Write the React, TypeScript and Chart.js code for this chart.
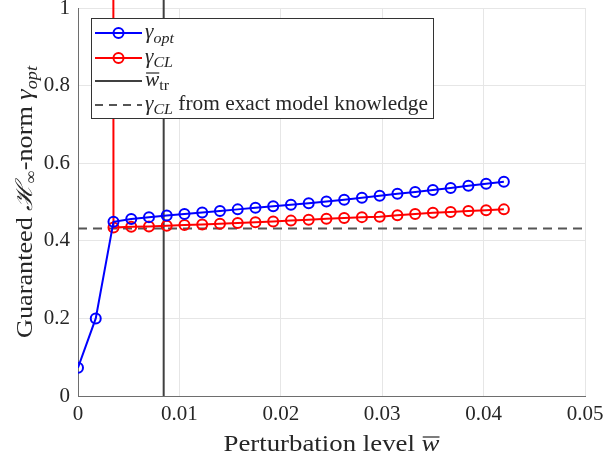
import { useEffect, useRef } from 'react';
import { Chart, registerables } from 'chart.js';
Chart.register(...registerables);

const perturbation = [0, 0.00175, 0.0035, 0.00525, 0.007, 0.00875, 0.0105, 0.01225, 0.014, 0.01575, 0.0175, 0.01925, 0.021, 0.02275, 0.0245, 0.02625, 0.028, 0.02975, 0.0315, 0.03325, 0.035, 0.03675, 0.0385, 0.04025, 0.042];
const gammaOpt = [0.073, 0.2, 0.449, 0.456, 0.461, 0.465, 0.469, 0.473, 0.477, 0.481, 0.485, 0.489, 0.493, 0.497, 0.501, 0.506, 0.511, 0.516, 0.521, 0.526, 0.531, 0.536, 0.542, 0.547, 0.552];
const gammaCL = [null, 1000, 0.434, 0.436, 0.437, 0.439, 0.441, 0.442, 0.444, 0.446, 0.448, 0.45, 0.452, 0.454, 0.457, 0.459, 0.461, 0.462, 0.466, 0.469, 0.472, 0.474, 0.477, 0.479, 0.481];
const wTr = 0.00845;
const gammaCLExact = 0.432;
const xRange = [0, 0.05];
const yRange = [0, 1];
const xTicks = [0, 0.01, 0.02, 0.03, 0.04, 0.05];
const yTicks = [0, 0.2, 0.4, 0.6, 0.8, 1];

const SERIF = "'Liberation Serif', 'DejaVu Serif', serif";
const BLUE = '#0000ff';
const RED = '#ff0000';
const DARK = '#404040';
const DASH = '#555555';

type Run = { t: string; f: string; dy?: number; over?: boolean };

function runsWidth(ctx: CanvasRenderingContext2D, runs: Run[]) {
  let w = 0;
  for (const r of runs) {
    ctx.font = r.f;
    w += ctx.measureText(r.t).width;
  }
  return w;
}

function drawRuns(ctx: CanvasRenderingContext2D, runs: Run[], x: number, y: number) {
  for (const r of runs) {
    ctx.font = r.f;
    const m = ctx.measureText(r.t);
    const w = m.width;
    ctx.fillText(r.t, x, y + (r.dy || 0));
    if (r.over) {
      const top = y + (r.dy || 0) - (m.actualBoundingBoxAscent || 10) - 3;
      ctx.save();
      ctx.strokeStyle = ctx.fillStyle as string;
      ctx.lineWidth = 1.2;
      ctx.beginPath();
      ctx.moveTo(x + 1, top);
      ctx.lineTo(x + w, top);
      ctx.stroke();
      ctx.restore();
    }
    x += w;
  }
}

function drawScaled(ctx: CanvasRenderingContext2D, runs: Run[], x: number, y: number, sx: number) {
  ctx.save();
  ctx.translate(x, y);
  ctx.scale(sx, 1);
  drawRuns(ctx, runs, 0, 0);
  ctx.restore();
}

const f = (size: number, italic = false) => `${italic ? 'italic ' : ''}${size}px ${SERIF}`;

const overlayPlugin = {
  id: 'overlay',
  afterDraw(chart: any) {
    const ctx: CanvasRenderingContext2D = chart.ctx;
    const area = chart.chartArea;
    ctx.save();
    ctx.fillStyle = '#262626';
    ctx.textBaseline = 'alphabetic';
    ctx.textAlign = 'left';

    // Y axis title
    const yRuns: Run[] = [
      { t: 'Guaranteed ', f: f(23) },
      { t: 'ℋ', f: f(23, true) },
      { t: '∞', f: f(16), dy: 4 },
      { t: '-norm ', f: f(23) },
      { t: 'γ', f: f(23, true) },
      { t: 'opt', f: f(16, true), dy: 5 },
    ];
    const yTarget = 272;
    const yw = runsWidth(ctx, yRuns);
    const cy = (area.top + area.bottom) / 2;
    ctx.save();
    ctx.translate(32, cy + yTarget / 2);
    ctx.rotate(-Math.PI / 2);
    drawScaled(ctx, yRuns, 0, 0, yTarget / yw);
    ctx.restore();

    // X axis title
    const xRuns: Run[] = [
      { t: 'Perturbation level ', f: f(24) },
      { t: 'w', f: f(24, true), over: true },
    ];
    const xTarget = 216;
    const xw = runsWidth(ctx, xRuns);
    drawScaled(ctx, xRuns, (area.left + area.right) / 2 - xTarget / 2, 451, xTarget / xw);

    // Legend
    const lx = 91, ly = 18, lw = 342, lh = 100;
    ctx.fillStyle = '#ffffff';
    ctx.fillRect(lx, ly, lw, lh);
    ctx.strokeStyle = '#333333';
    ctx.lineWidth = 1;
    ctx.strokeRect(lx + 0.5, ly + 0.5, lw, lh);

    const rows = [33, 58, 81, 105];
    const sx0 = 95, sx1 = 142, tx = 145;
    const drawSample = (y: number, color: string, marker: boolean, dashed: boolean) => {
      ctx.save();
      ctx.strokeStyle = color;
      ctx.lineWidth = 2;
      if (dashed) ctx.setLineDash([8, 6]);
      ctx.beginPath();
      ctx.moveTo(sx0, y);
      ctx.lineTo(sx1, y);
      ctx.stroke();
      ctx.setLineDash([]);
      if (marker) {
        ctx.beginPath();
        ctx.arc((sx0 + sx1) / 2, y, 5, 0, Math.PI * 2);
        ctx.stroke();
      }
      ctx.restore();
    };
    drawSample(rows[0], BLUE, true, false);
    drawSample(rows[1], RED, true, false);
    drawSample(rows[2], DARK, false, false);
    drawSample(rows[3], DASH, false, true);

    ctx.fillStyle = '#262626';
    const row4: Run[] = [
      { t: 'γ', f: f(20, true) },
      { t: 'CL', f: f(15, true), dy: 4 },
      { t: ' from exact model knowledge', f: f(20) },
    ];
    const lsx = 283 / runsWidth(ctx, row4);
    drawScaled(ctx, [{ t: 'γ', f: f(20, true) }, { t: 'opt', f: f(15, true), dy: 5 }], tx, rows[0] + 5, lsx);
    drawScaled(ctx, [{ t: 'γ', f: f(20, true) }, { t: 'CL', f: f(15, true), dy: 4 }], tx, rows[1] + 5, lsx);
    drawScaled(ctx, [{ t: 'w', f: f(20, true), over: true }, { t: 'tr', f: f(15), dy: 4 }], tx, rows[2] + 5, lsx);
    drawScaled(ctx, row4, tx, rows[3] + 5, lsx);

    ctx.restore();
  },
};

export default function App() {
  const ref = useRef<HTMLCanvasElement | null>(null);
  useEffect(() => {
    if (!ref.current) return;
    const optPts = perturbation.map((x, i) => ({ x, y: gammaOpt[i] }));
    const clPts = perturbation.map((x, i) => ({ x, y: gammaCL[i] }));
    const chart = new Chart(ref.current, {
      type: 'line',
      data: {
        datasets: [
          {
            label: 'γopt',
            data: optPts as any,
            borderColor: BLUE,
            backgroundColor: 'rgba(0,0,0,0)',
            borderWidth: 2,
            pointRadius: 5,
            pointBorderWidth: 2,
            pointBorderColor: BLUE,
            pointBackgroundColor: 'rgba(0,0,0,0)',
            tension: 0,
            order: 1,
          },
          {
            label: 'γCL',
            data: clPts as any,
            borderColor: RED,
            backgroundColor: 'rgba(0,0,0,0)',
            borderWidth: 2,
            pointRadius: 5,
            pointBorderWidth: 2,
            pointBorderColor: RED,
            pointBackgroundColor: 'rgba(0,0,0,0)',
            tension: 0,
            spanGaps: false,
            clip: { left: 0, right: 0, bottom: 0, top: 8 } as any,
            order: 2,
          },
          {
            label: 'w̄tr',
            data: [{ x: wTr, y: yRange[0] }, { x: wTr, y: 1000 }] as any,
            borderColor: DARK,
            borderWidth: 2,
            pointRadius: 0,
            clip: { left: 0, right: 0, bottom: 0, top: 8 } as any,
            order: 3,
          },
          {
            label: 'γCL from exact model knowledge',
            data: [{ x: xRange[0], y: gammaCLExact }, { x: xRange[1], y: gammaCLExact }] as any,
            borderColor: DASH,
            borderWidth: 2,
            borderDash: [9, 6],
            pointRadius: 0,
            order: 4,
          },
        ],
      },
      options: {
        responsive: false,
        animation: false,
        events: [],
        layout: { padding: { top: 8, right: 20, left: 0, bottom: 0 } },
        plugins: { legend: { display: false }, tooltip: { enabled: false } },
        scales: {
          x: {
            type: 'linear',
            min: xRange[0],
            max: xRange[1],
            afterBuildTicks: (s: any) => { s.ticks = xTicks.map((v) => ({ value: v })); },
            afterFit: (s: any) => { s.height = 65; s.paddingLeft = 0; s.paddingRight = 0; },
            ticks: {
              font: { family: SERIF, size: 21 },
              color: '#262626',
              padding: 6,
              maxRotation: 0,
              callback: (v: any) => (v === 0 ? '0' : Number(v).toFixed(2)),
            },
            grid: { color: '#e6e6e6', lineWidth: 1, drawTicks: false },
            border: { color: '#6e6e6e', width: 1 },
          },
          y: {
            type: 'linear',
            min: yRange[0],
            max: yRange[1],
            afterBuildTicks: (s: any) => { s.ticks = yTicks.map((v) => ({ value: v })); },
            afterFit: (s: any) => { s.width = 78; s.paddingTop = 0; s.paddingBottom = 0; },
            ticks: {
              font: { family: SERIF, size: 21 },
              color: '#262626',
              padding: 8,
              callback: (v: any) => (v === 0 ? '0' : v === 1 ? '1' : Number(v).toFixed(1)),
            },
            grid: { color: '#e6e6e6', lineWidth: 1, drawTicks: false },
            border: { color: '#6e6e6e', width: 1 },
          },
        },
      },
      plugins: [overlayPlugin],
    });
    return () => chart.destroy();
  }, []);
  return (
    <div style={{ position: 'fixed', left: 0, top: 0, width: 605, height: 461, background: '#fff' }}>
      <canvas ref={ref} width={605} height={461} style={{ width: 605, height: 461, display: 'block' }} />
    </div>
  );
}
